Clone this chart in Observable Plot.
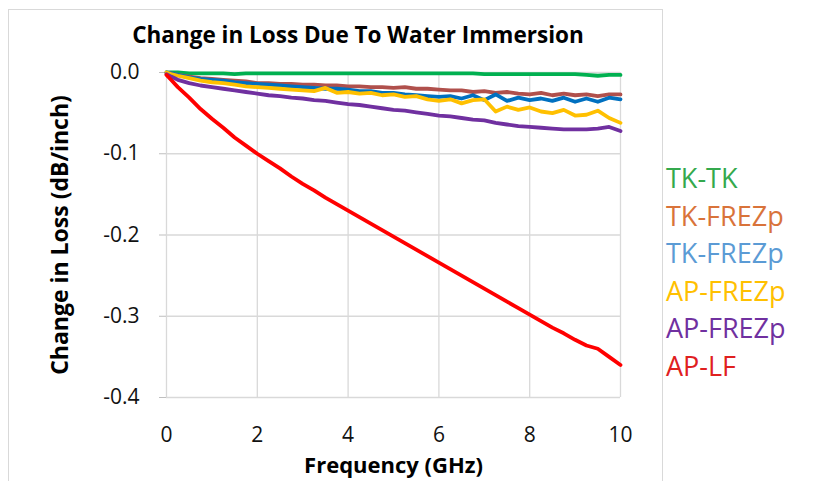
<!DOCTYPE html>
<html>
<head>
<meta charset="utf-8">
<script src="https://cdn.jsdelivr.net/npm/d3@7"></script>
<script src="https://cdn.jsdelivr.net/npm/@observablehq/plot@0.6"></script>
<style>
  html, body { margin: 0; padding: 0; background: #fff; }
  #wrap { position: relative; width: 813px; height: 481px; overflow: hidden; font-family: "Open Sans", Lato, sans-serif; }
  #frame { position: absolute; left: 8px; top: 9px; width: 655px; height: 480px; border: 1px solid #d9d9d9; box-sizing: border-box; }
  #title { position: absolute; left: 108px; width: 500px; top: 24px; text-align: center; font-weight: bold; font-size: 22.5px; line-height: 22px; color: #000; white-space: nowrap; }
  #legend { position: absolute; left: 666px; top: 159px; }
  #legend div { font-size: 27px; line-height: 37.6px; height: 37.6px; white-space: nowrap; }
  svg { position: absolute; left: 0; top: 0; }
</style>
</head>
<body>
<div id="wrap">
  <div id="frame"></div>
  <div id="chart"></div>
  <div id="title">Change in Loss Due To Water Immersion</div>
  <div id="legend"></div>
</div>
<script>
const frequency = [0, 0.1, 0.25, 0.5, 0.75, 1, 1.25, 1.5, 1.75, 2, 2.25, 2.5, 2.75, 3, 3.25, 3.5, 3.75, 4, 4.25, 4.5, 4.75, 5, 5.25, 5.5, 5.75, 6, 6.25, 6.5, 6.75, 7, 7.25, 7.5, 7.75, 8, 8.25, 8.5, 8.75, 9, 9.25, 9.5, 9.75, 10];

const seriesNames = ["TK-TK", "TK-FREZp", "TK-FREZp ", "AP-FREZp", "AP-FREZp ", "AP-LF"];
const legendLabels = ["TK-TK", "TK-FREZp", "TK-FREZp", "AP-FREZp", "AP-FREZp", "AP-LF"];
const lineColors = ["#00b050", "#b0504c", "#0070c0", "#ffc000", "#7030a0", "#ff0000"];
const legendColors = ["#34a94d", "#d9733a", "#5b9bd5", "#ffc000", "#7030a0", "#e0201f"];

const tkTk = [0, 0, 0, -0.001, -0.001, -0.001, -0.001, -0.002, -0.001, -0.001, -0.001, -0.001, -0.001, -0.001, -0.001, -0.001, -0.001, -0.001, -0.001, -0.001, -0.001, -0.001, -0.001, -0.001, -0.001, -0.001, -0.001, -0.001, -0.001, -0.002, -0.002, -0.002, -0.002, -0.002, -0.002, -0.002, -0.002, -0.002, -0.003, -0.004, -0.003, -0.003];
const tkFrezpA = [0, -0.001, -0.003, -0.005, -0.007, -0.008, -0.009, -0.010, -0.011, -0.013, -0.013, -0.014, -0.014, -0.015, -0.015, -0.016, -0.016, -0.017, -0.017, -0.018, -0.018, -0.019, -0.018, -0.020, -0.020, -0.021, -0.022, -0.022, -0.024, -0.023, -0.025, -0.024, -0.026, -0.027, -0.025, -0.028, -0.026, -0.028, -0.027, -0.029, -0.027, -0.027];
const tkFrezpB = [0, -0.001, -0.003, -0.006, -0.008, -0.009, -0.010, -0.012, -0.013, -0.014, -0.015, -0.016, -0.017, -0.018, -0.019, -0.020, -0.020, -0.021, -0.023, -0.023, -0.025, -0.025, -0.027, -0.028, -0.029, -0.030, -0.029, -0.032, -0.028, -0.034, -0.027, -0.035, -0.031, -0.034, -0.032, -0.035, -0.031, -0.036, -0.032, -0.036, -0.031, -0.033];
const apFrezpA = [0, -0.002, -0.004, -0.007, -0.010, -0.012, -0.013, -0.015, -0.017, -0.018, -0.019, -0.020, -0.021, -0.022, -0.023, -0.019, -0.025, -0.024, -0.026, -0.025, -0.028, -0.027, -0.030, -0.029, -0.033, -0.035, -0.033, -0.038, -0.034, -0.033, -0.048, -0.042, -0.046, -0.043, -0.048, -0.050, -0.046, -0.053, -0.052, -0.047, -0.056, -0.062];
const apFrezpB = [-0.002, -0.005, -0.009, -0.013, -0.016, -0.018, -0.020, -0.022, -0.024, -0.026, -0.028, -0.029, -0.031, -0.032, -0.034, -0.035, -0.037, -0.039, -0.040, -0.042, -0.044, -0.046, -0.047, -0.049, -0.051, -0.053, -0.054, -0.056, -0.058, -0.059, -0.062, -0.064, -0.066, -0.067, -0.068, -0.069, -0.070, -0.070, -0.070, -0.069, -0.067, -0.072];
const apLf = [-0.003, -0.009, -0.018, -0.031, -0.045, -0.057, -0.068, -0.080, -0.090, -0.100, -0.109, -0.118, -0.128, -0.137, -0.145, -0.154, -0.162, -0.170, -0.178, -0.186, -0.194, -0.202, -0.210, -0.218, -0.226, -0.234, -0.242, -0.250, -0.258, -0.266, -0.274, -0.282, -0.290, -0.298, -0.306, -0.314, -0.321, -0.329, -0.336, -0.340, -0.350, -0.360];

const xTicks = [0, 2, 4, 6, 8, 10];
const yTicks = [0, -0.1, -0.2, -0.3, -0.4];

const allValues = [tkTk, tkFrezpA, tkFrezpB, apFrezpA, apFrezpB, apLf];
const rows = [];
allValues.forEach((vals, i) => {
  vals.forEach((v, j) => rows.push({series: seriesNames[i], f: frequency[j], v}));
});

const plot = Plot.plot({
  width: 813,
  height: 481,
  marginLeft: 166,
  marginRight: 193,
  marginTop: 72,
  marginBottom: 84,
  style: {fontFamily: "'Open Sans', Lato, sans-serif", fontSize: "21px", color: "#000", background: "transparent"},
  x: {domain: [0, 10], label: null},
  y: {domain: [-0.4, 0], label: null},
  color: {domain: seriesNames, range: lineColors},
  marks: [
    Plot.gridX(xTicks, {stroke: "#d9d9d9", strokeOpacity: 1, strokeWidth: 1.3}),
    Plot.gridY(yTicks, {stroke: "#d9d9d9", strokeOpacity: 1, strokeWidth: 1.3}),
    Plot.axisY({ticks: yTicks, tickSize: 7, tickPadding: 20, tickFormat: d => d.toFixed(1), stroke: "#bfbfbf", fontSize: 21, fill: "#111", label: null}),
    Plot.axisX({ticks: xTicks, tickSize: 0, tickPadding: 30, tickFormat: d => String(d), fontSize: 21, fill: "#111", label: null}),
    Plot.line(rows, {x: "f", y: "v", z: "series", stroke: "series", strokeWidth: 3.8, curve: "linear", strokeLinejoin: "round"}),
    Plot.text(["Frequency (GHz)"], {frameAnchor: "bottom", lineAnchor: "middle", dy: 68, text: d => d, fontWeight: "bold", fontSize: 22, fill: "#000"}),
    Plot.text(["Change in Loss (dB/inch)"], {frameAnchor: "left", dx: -106, rotate: -90, textAnchor: "middle", text: d => d, fontWeight: "bold", fontSize: 23, fill: "#000"})
  ]
});
document.getElementById("chart").appendChild(plot);

const legend = document.getElementById("legend");
legendLabels.forEach((t, i) => {
  const d = document.createElement("div");
  d.textContent = t;
  d.style.color = legendColors[i];
  legend.appendChild(d);
});
</script>
</body>
</html>
